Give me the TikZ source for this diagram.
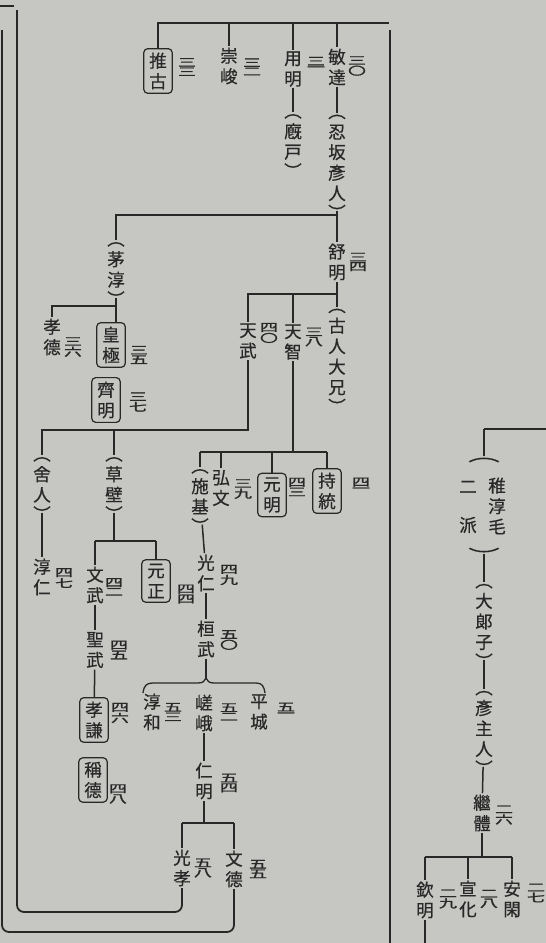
\documentclass[tikz,border=0pt]{standalone}
\usepackage{fontspec}
\usepackage{graphicx}
\newfontfamily\cjk[FakeBold=0.5]{Noto Sans CJK JP}
\newfontfamily\cjknum[FakeBold=1.4]{Noto Sans CJK JP}
\definecolor{paper}{RGB}{198,198,195}
\definecolor{ink}{RGB}{40,40,40}
\newcommand\nmx[2]{\vbox{\offinterlineskip\halign{\hfil##\hfil\cr\scalebox{1}[0.62]{#1}\cr\noalign{\kern1pt}\scalebox{1}[0.62]{#2}\cr}}}
\newcommand\po{︵}
\newcommand\pc{\raisebox{-10pt}[4.7pt][0pt]{︶}}
\tikzset{
  nm/.style={font=\cjk\fontsize{17.5}{20.5}\selectfont, align=center, inner sep=1.5pt, text=ink},
  emp/.style={nm, draw=ink, line width=1.2pt, rounded corners=4pt, inner xsep=5.5pt, inner ysep=4pt},
  numb/.style={font=\cjknum\fontsize{18}{18}\selectfont, inner sep=0pt, text=ink},
  ln/.style={draw=ink, line width=1.5pt},
  brd/.style={draw=ink, line width=1.8pt}
}
\begin{document}
\begin{tikzpicture}[x=1pt,y=-1pt]
\fill[paper] (0,0) rectangle (546,943);
\useasboundingbox (0,0) rectangle (546,943);
% names
\node[emp] (suiko) at (158,71) {推\\古};
\node[nm] (sushun) at (229,66) {崇\\峻};
\node[nm] (yomei) at (293,69) {用\\明};
\node[nm] (umayado) at (293,141) {\po\\廐\\戸\\[-11pt]\pc};
\node[nm] (bidatsu) at (337,67) {敏\\達};
\node[nm] (oshisaka) at (337,162) {\po\\忍\\坂\\彥\\人\\[-11pt]\pc};
\node[nm] (chinu) at (116,269) {\po\\茅\\淳\\[-11pt]\pc};
\node[nm] (jomei) at (337,262) {舒\\明};
\node[nm] (furuhito) at (337,356) {\po\\古\\人\\大\\兄\\[-11pt]\pc};
\node[nm] (temmu) at (248,341) {天\\武};
\node[nm] (tenji) at (293,342) {天\\智};
\node[nm] (kotoku) at (52,337) {孝\\德};
\node[emp] (kogyoku) at (111,345) {皇\\極};
\node[emp] (saimei) at (106,400) {齊\\明};
\node[nm] (toneri) at (42,484) {\po\\舍\\人\\[-11pt]\pc};
\node[nm] (kusakabe) at (114,484) {\po\\草\\壁\\[-11pt]\pc};
\node[nm] (shiki) at (200,496) {\po\\施\\基\\[-11pt]\pc};
\node[nm] (kobun) at (221,488) {弘\\文};
\node[emp] (gemmei) at (272,495) {元\\明};
\node[emp] (jito) at (327,491) {持\\統};
\node[nm] (junnin) at (42,577) {淳\\仁};
\node[nm] (mommu) at (95,585) {文\\武};
\node[emp] (gensho) at (156,581) {元\\正};
\node[nm] (shomu) at (95,650) {聖\\武};
\node[emp] (koken) at (94,720) {孝\\謙};
\node[emp] (shotoku) at (93,780) {稱\\德};
\node[nm] (konin) at (206,573) {光\\仁};
\node[nm] (kammu) at (206,639) {桓\\武};
\node[nm] (junna) at (152,712) {淳\\和};
\node[nm] (saga) at (204,713) {嵯\\峨};
\node[nm] (heizei) at (259,712) {平\\城};
\node[nm] (nimmyo) at (204,781) {仁\\明};
\node[nm] (koko) at (182,868) {光\\孝};
\node[nm] (montoku) at (234,869) {文\\德};
% right branch
\node[nm] (wkp1) at (484,460) {\scalebox{1.8}[1]{\po}};
\node[nm] (wakanu) at (497,506) {稚\\淳\\毛};
\node[nm] (niha) at (468,507) {二\\[18pt]派};
\node[nm] (wkp2) at (484,550) {\scalebox{1.8}[1]{\pc}};
\node[nm] (oiratsuko) at (484,621) {\po\\大\\郞\\子\\[-11pt]\pc};
\node[nm] (hikoushi) at (484,728) {\po\\彥\\主\\人\\[-11pt]\pc};
\node[nm] (keitai) at (482,813) {繼\\體};
\node[nm] (kimmei) at (425,900) {欽\\明};
\node[nm] (senka) at (468,899) {宣\\化};
\node[nm] (ankan) at (512,899) {安\\閑};
% numbers
\node[numb] (n30) at (357,66) {\nmx{三}{〇}};
\node[numb] (n31) at (316,64) {\nmx{三}{一}};
\node[numb] (n32) at (252,67) {\nmx{三}{二}};
\node[numb] (n33) at (187,67) {\nmx{三}{三}};
\node[numb] (n34) at (358,262) {\nmx{三}{四}};
\node[numb] (n35) at (139,355) {\nmx{三}{五}};
\node[numb] (n36) at (73,347) {\nmx{三}{六}};
\node[numb] (n37) at (138,402) {\nmx{三}{七}};
\node[numb] (n38) at (314,337) {\nmx{三}{八}};
\node[numb] (n39) at (243,489) {\nmx{三}{九}};
\node[numb] (n40) at (269,333) {\nmx{四}{〇}};
\node[numb] (n41) at (361,485) {\nmx{四}{一}};
\node[numb] (n42) at (114,587) {\nmx{四}{二}};
\node[numb] (n43) at (297,487) {\nmx{四}{三}};
\node[numb] (n44) at (186,594) {\nmx{四}{四}};
\node[numb] (n45) at (119,650) {\nmx{四}{五}};
\node[numb] (n46) at (120,713) {\nmx{四}{六}};
\node[numb] (n47) at (64,578) {\nmx{四}{七}};
\node[numb] (n48) at (118,794) {\nmx{四}{八}};
\node[numb] (n49) at (229,575) {\nmx{四}{九}};
\node[numb] (n50) at (229,640) {\nmx{五}{〇}};
\node[numb] (n51) at (286,710) {\nmx{五}{一}};
\node[numb] (n52) at (229,712) {\nmx{五}{二}};
\node[numb] (n53) at (173,712) {\nmx{五}{三}};
\node[numb] (n54) at (229,783) {\nmx{五}{四}};
\node[numb] (n55) at (258,869) {\nmx{五}{五}};
\node[numb] (n58) at (203,868) {\nmx{五}{八}};
\node[numb] (n26) at (504,815) {\nmx{二}{六}};
\node[numb] (n27) at (536,893) {\nmx{二}{七}};
\node[numb] (n28) at (489,899) {\nmx{二}{八}};
\node[numb] (n29) at (448,899) {\nmx{二}{九}};
% coordinates
\coordinate (t1) at (157,23);
\coordinate (t1e) at (389,23);
\coordinate (t2) at (0,215);
\coordinate (t3) at (0,294);
\coordinate (t4) at (0,306);
\coordinate (t5) at (0,430);
\coordinate (t6) at (0,452);
\coordinate (t7) at (0,541);
\coordinate (t8) at (0,823);
\coordinate (br) at (206,679);
\coordinate (b1) at (0,912);
\coordinate (b2) at (0,932);
\coordinate (r1) at (0,429);
\coordinate (r1e) at (546,429);
\coordinate (r2) at (0,857);
\coordinate (r3) at (0,943);
% connectors
\draw[ln] (t1) -- (t1e);
\foreach \n in {suiko,sushun,yomei,bidatsu} \draw[ln] (\n.north |- t1) -- (\n.north);
\draw[ln] (yomei) -- (umayado);
\draw[ln] (bidatsu) -- (oshisaka);
\draw[ln] (oshisaka.south) -- (oshisaka.south |- t2) -- (chinu.north |- t2) -- (chinu.north);
\draw[ln] (jomei.north |- t2) -- (jomei.north);
\draw[ln] (jomei) -- (furuhito);
\draw[ln] (jomei.south |- t3) -- (temmu.north |- t3) -- (temmu.north);
\draw[ln] (tenji.north |- t3) -- (tenji.north);
\draw[ln] (chinu.south) -- (chinu.south |- kogyoku.north);
\draw[ln] (kotoku.north) -- (kotoku.north |- t4) -- (chinu.south |- t4);
\draw[ln] (temmu.south) -- (temmu.south |- t5) -- (toneri.north |- t5) -- (toneri.north);
\draw[ln] (kusakabe.north |- t5) -- (kusakabe.north);
\draw[ln] (tenji.south) -- (tenji.south |- t6);
\draw[ln] (shiki.north |- t6) -- (jito.north |- t6);
\foreach \n in {shiki,kobun,gemmei,jito} \draw[ln] (\n.north |- t6) -- (\n.north);
\draw[ln] (toneri) -- (junnin);
\draw[ln] (kusakabe.south) -- (kusakabe.south |- t7);
\draw[ln] (mommu.north |- t7) -- (gensho.north |- t7);
\foreach \n in {mommu,gensho} \draw[ln] (\n.north |- t7) -- (\n.north);
\draw[ln] (mommu) -- (shomu);
\draw[ln] (shomu) -- (koken);
\draw[ln] (shiki) -- (konin);
\draw[ln] (konin) -- (kammu);
\draw[ln] (kammu.south) -- (kammu.south |- br);
\draw[ln, line width=1.3pt] (143,693) .. controls (144,685) and (147,683) .. (153,683) -- (198,683) .. controls (203,683) and (205,681) .. (206,678) .. controls (207,681) and (209,683) .. (214,683) -- (256,683) .. controls (262,683) and (264,686) .. (265,693);
\draw[ln] (saga) -- (nimmyo);
\draw[ln] (nimmyo.south) -- (nimmyo.south |- t8);
\draw[ln] (koko.north |- t8) -- (montoku.north |- t8);
\foreach \n in {koko,montoku} \draw[ln] (\n.north |- t8) -- (\n.north);
\draw[brd, rounded corners=7pt] (koko.south) -- (koko.south |- b1) -- (17,912) -- (17,10);
\draw[brd, rounded corners=7pt] (montoku.south) -- (montoku.south |- b2) -- (2,932) -- (2,30);
\draw[brd] (0,6) -- (14,6);
\draw[brd] (390,30) -- (390,943);
% right tree
\draw[ln] (wkp1.north |- r1) -- (r1e);
\draw[ln] (wkp1.north |- r1) -- (wkp1.north);
\draw[ln] (wkp2) -- (oiratsuko);
\draw[ln] (oiratsuko) -- (hikoushi);
\draw[ln] (hikoushi) -- (keitai);
\draw[ln] (keitai.south) -- (keitai.south |- r2);
\draw[ln] (kimmei.north |- r2) -- (ankan.north |- r2);
\foreach \n in {kimmei,senka,ankan} \draw[ln] (\n.north |- r2) -- (\n.north);
\draw[ln] (kimmei.south) -- (kimmei.south |- r3);
\end{tikzpicture}
\end{document}
